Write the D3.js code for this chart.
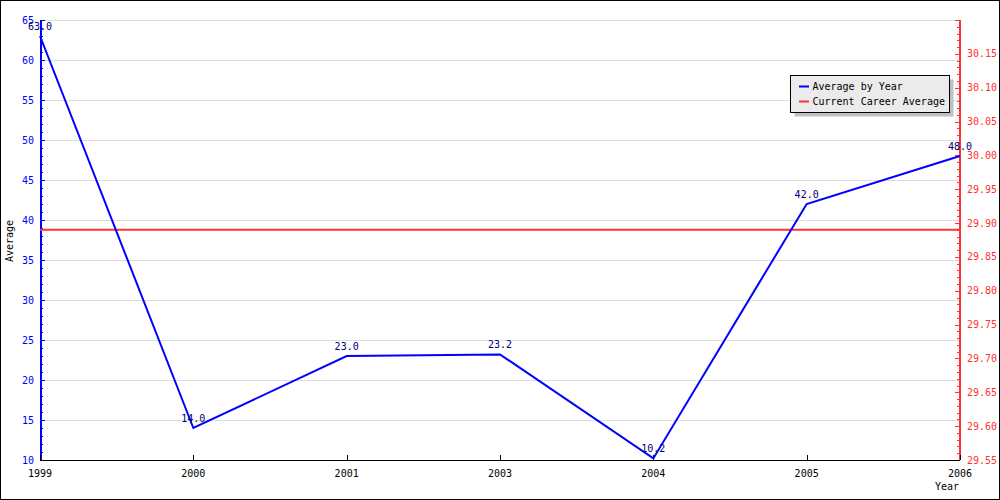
<!DOCTYPE html>
<html>
<head>
<meta charset="utf-8">
<script src="https://cdn.jsdelivr.net/npm/d3@7"></script>
<style>
  body { margin: 0; background: #fff; }
  text { font-family: "DejaVu Sans Mono", monospace; font-size: 10px; }
</style>
</head>
<body>
<div id="chart"></div>
<script>
// Data.
const years = ["1999", "2000", "2001", "2003", "2004", "2005", "2006"];
const averages = [63.0, 14.0, 23.0, 23.2, 10.2, 42.0, 48.0];
const averageLabels = ["63.0", "14.0", "23.0", "23.2", "10.2", "42.0", "48.0"];
const careerAverage = 29.89;
const leftTicks = [10, 15, 20, 25, 30, 35, 40, 45, 50, 55, 60, 65];
const rightTicks = [29.55, 29.60, 29.65, 29.70, 29.75, 29.80, 29.85, 29.90, 29.95, 30.00, 30.05, 30.10, 30.15];
const legendNames = ["Average by Year", "Current Career Average"];

const W = 1000, H = 500;
const pLeft = 40, pRight = 960, pTop = 20, pBottom = 460;
const blue = "#0000ff", red = "#ff3333";

const svg = d3.select("#chart").append("svg")
  .attr("width", W)
  .attr("height", H);

// Outer frame.
svg.append("rect")
  .attr("x", 0.5).attr("y", 0.5)
  .attr("width", W - 1).attr("height", H - 1)
  .attr("fill", "#fff").attr("stroke", "#000");

// Scales.
const x = d3.scalePoint().domain(years).range([pLeft, pRight]);
const y = d3.scaleLinear().domain([10, 65]).range([pBottom, pTop]);
const y2 = d3.scaleLinear().domain([29.55, 30.2]).range([pBottom, pTop]);

// Grid lines on the left axis majors.
svg.append("g").selectAll("line")
  .data(leftTicks)
  .join("line")
  .attr("x1", pLeft).attr("x2", pRight)
  .attr("y1", d => Math.round(y(d)) + 0.5)
  .attr("y2", d => Math.round(y(d)) + 0.5)
  .attr("stroke", "#dddddd");

// Left axis (blue) with minor ticks every 1.
const leftAxis = svg.append("g");
leftAxis.selectAll("line.minor")
  .data(d3.range(10, 66, 1))
  .join("line")
  .attr("x1", pLeft).attr("x2", d => pLeft + (d % 5 === 0 ? 5 : 3))
  .attr("y1", d => Math.round(y(d)) + 0.5)
  .attr("y2", d => Math.round(y(d)) + 0.5)
  .attr("stroke", blue);
leftAxis.append("line")
  .attr("x1", pLeft + 1).attr("x2", pLeft + 1)
  .attr("y1", pTop).attr("y2", pBottom)
  .attr("stroke", blue).attr("stroke-width", 2);
leftAxis.selectAll("text")
  .data(leftTicks)
  .join("text")
  .attr("x", 34)
  .attr("y", d => y(d))
  .attr("dy", "0.35em")
  .attr("text-anchor", "end")
  .attr("fill", blue)
  .text(d => d);

// Right axis (red) with minor ticks every 0.01.
const rightAxis = svg.append("g");
rightAxis.selectAll("line")
  .data(d3.range(0, 66))
  .join("line")
  .attr("x1", d => pRight - (d % 5 === 0 ? 5 : 3)).attr("x2", pRight)
  .attr("y1", d => Math.round(y2(29.55 + d * 0.01)) + 0.5)
  .attr("y2", d => Math.round(y2(29.55 + d * 0.01)) + 0.5)
  .attr("stroke", red);
rightAxis.append("line")
  .attr("x1", pRight).attr("x2", pRight)
  .attr("y1", pTop).attr("y2", pBottom)
  .attr("stroke", red).attr("stroke-width", 2);
rightAxis.selectAll("text")
  .data(rightTicks)
  .join("text")
  .attr("x", 967)
  .attr("y", d => y2(d))
  .attr("dy", "0.35em")
  .attr("fill", red)
  .text(d => d.toFixed(2));

// X axis.
const xAxis = svg.append("g");
xAxis.append("line")
  .attr("x1", pLeft).attr("x2", pRight)
  .attr("y1", pBottom + 0.5).attr("y2", pBottom + 0.5)
  .attr("stroke", "#000");
xAxis.selectAll("line.tick")
  .data(years)
  .join("line")
  .attr("class", "tick")
  .attr("x1", d => Math.round(x(d)) + 0.5)
  .attr("x2", d => Math.round(x(d)) + 0.5)
  .attr("y1", pBottom - 5).attr("y2", pBottom)
  .attr("stroke", "#000");
xAxis.selectAll("text")
  .data(years)
  .join("text")
  .attr("x", d => x(d))
  .attr("y", 477)
  .attr("text-anchor", "middle")
  .attr("fill", "#000")
  .text(d => d);

// Axis titles.
svg.append("text")
  .attr("x", 959).attr("y", 490)
  .attr("text-anchor", "end")
  .text("Year");
svg.append("text")
  .attr("transform", "translate(13, 241) rotate(-90)")
  .attr("text-anchor", "middle")
  .text("Average");

// Career average line (right axis).
svg.append("line")
  .attr("x1", pLeft).attr("x2", pRight)
  .attr("y1", y2(careerAverage)).attr("y2", y2(careerAverage))
  .attr("stroke", red).attr("stroke-width", 2);

// Average by year line.
const line = d3.line()
  .x((d, i) => x(years[i]))
  .y(d => y(d));
svg.append("path")
  .datum(averages)
  .attr("d", line)
  .attr("fill", "none")
  .attr("stroke", blue)
  .attr("stroke-width", 2);

// Value labels.
svg.append("g").selectAll("text")
  .data(averages)
  .join("text")
  .attr("x", (d, i) => x(years[i]))
  .attr("y", d => y(d) - 6)
  .attr("text-anchor", "middle")
  .attr("fill", "#000080")
  .text((d, i) => averageLabels[i]);

// Legend.
const legend = svg.append("g").attr("transform", "translate(790.5, 75.5)");
legend.append("rect")
  .attr("x", 4).attr("y", 4)
  .attr("width", 159).attr("height", 37)
  .attr("fill", "#c0c0c0");
legend.append("rect")
  .attr("width", 159).attr("height", 37)
  .attr("fill", "#ebebeb").attr("stroke", "#000");
const entries = legend.selectAll("g.entry")
  .data(legendNames)
  .join("g")
  .attr("transform", (d, i) => `translate(0, ${11 + i * 15})`);
entries.append("line")
  .attr("x1", 8.5).attr("x2", 18.5)
  .attr("y1", 0).attr("y2", 0)
  .attr("stroke", (d, i) => i === 0 ? blue : red)
  .attr("stroke-width", 2);
entries.append("text")
  .attr("x", 22)
  .attr("y", 0)
  .attr("dy", "0.35em")
  .attr("fill", "#000")
  .text(d => d);
</script>
</body>
</html>
